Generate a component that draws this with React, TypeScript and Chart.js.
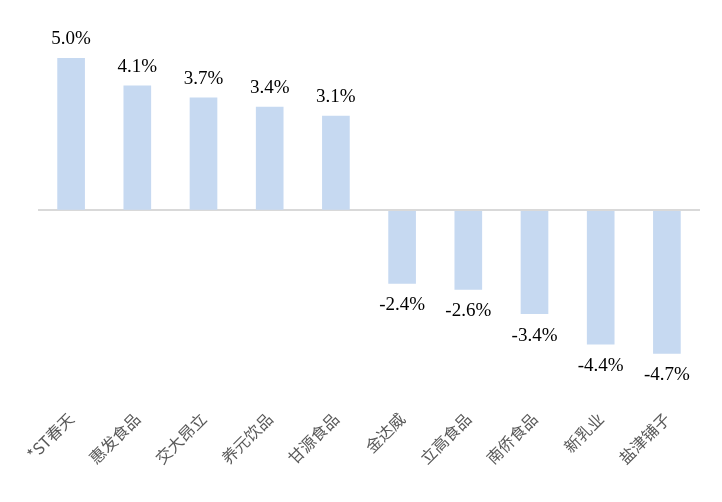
import React, { useEffect, useRef } from "react";
import { Chart, registerables } from "chart.js";

Chart.register(...registerables);

const categories = ["*ST春天", "惠发食品", "交大昂立", "养元饮品", "甘源食品", "金达威", "立高食品", "南侨食品", "新乳业", "盐津铺子"];
const values = [5.0, 4.1, 3.7, 3.4, 3.1, -2.4, -2.6, -3.4, -4.4, -4.7];
const valueLabels = ["5.0%", "4.1%", "3.7%", "3.4%", "3.1%", "-2.4%", "-2.6%", "-3.4%", "-4.4%", "-4.7%"];

const labelPlugin = {
  id: "valueLabels",
  afterDatasetsDraw(chart: any) {
    const ctx = chart.ctx;
    const meta = chart.getDatasetMeta(0);
    ctx.save();
    ctx.font = '19px "Liberation Serif", "Times New Roman", serif';
    ctx.fillStyle = "#000000";
    ctx.textAlign = "center";
    ctx.textBaseline = "alphabetic";
    meta.data.forEach((bar: any, i: number) => {
      const v = values[i];
      const y = v >= 0 ? bar.y - 14 : bar.y + 27;
      ctx.fillText(valueLabels[i], bar.x, y);
    });
    ctx.restore();
  },
};

export default function App() {
  const ref = useRef<HTMLCanvasElement>(null);
  useEffect(() => {
    if (!ref.current) return;
    const chart = new Chart(ref.current, {
      type: "bar",
      data: {
        labels: categories,
        datasets: [
          {
            data: values,
            backgroundColor: "#c6d9f1",
            barThickness: 27,
          },
        ],
      },
      options: {
        animation: false,
        responsive: true,
        maintainAspectRatio: false,
        layout: { padding: { top: 28, right: 22, left: 0, bottom: 0 } },
        plugins: { legend: { display: false }, tooltip: { enabled: false } },
        scales: {
          x: {
            grid: { display: false },
            border: { display: false },
            ticks: {
              minRotation: 45,
              maxRotation: 45,
              autoSkip: false,
              padding: -4,
              color: "#595959",
              font: { family: '"Noto Sans CJK SC", sans-serif', size: 16 },
            },
            afterFit(scale: any) {
              scale.height = 97;
            },
          },
          y: {
            min: -6.4,
            max: 6,
            ticks: { display: false, stepSize: 1 },
            border: { display: false },
            grid: {
              drawTicks: false,
              lineWidth: 2,
              color: (c: any) => (c.tick && c.tick.value === 0 ? "#d9d9d9" : "rgba(0,0,0,0)"),
            },
            afterFit(scale: any) {
              scale.width = 38;
            },
          },
        },
      },
      plugins: [labelPlugin],
    });
    return () => chart.destroy();
  }, []);
  return (
    <div style={{ position: "fixed", left: 0, top: 0, width: 722, height: 502, background: "#fff" }}>
      <canvas ref={ref} />
    </div>
  );
}
